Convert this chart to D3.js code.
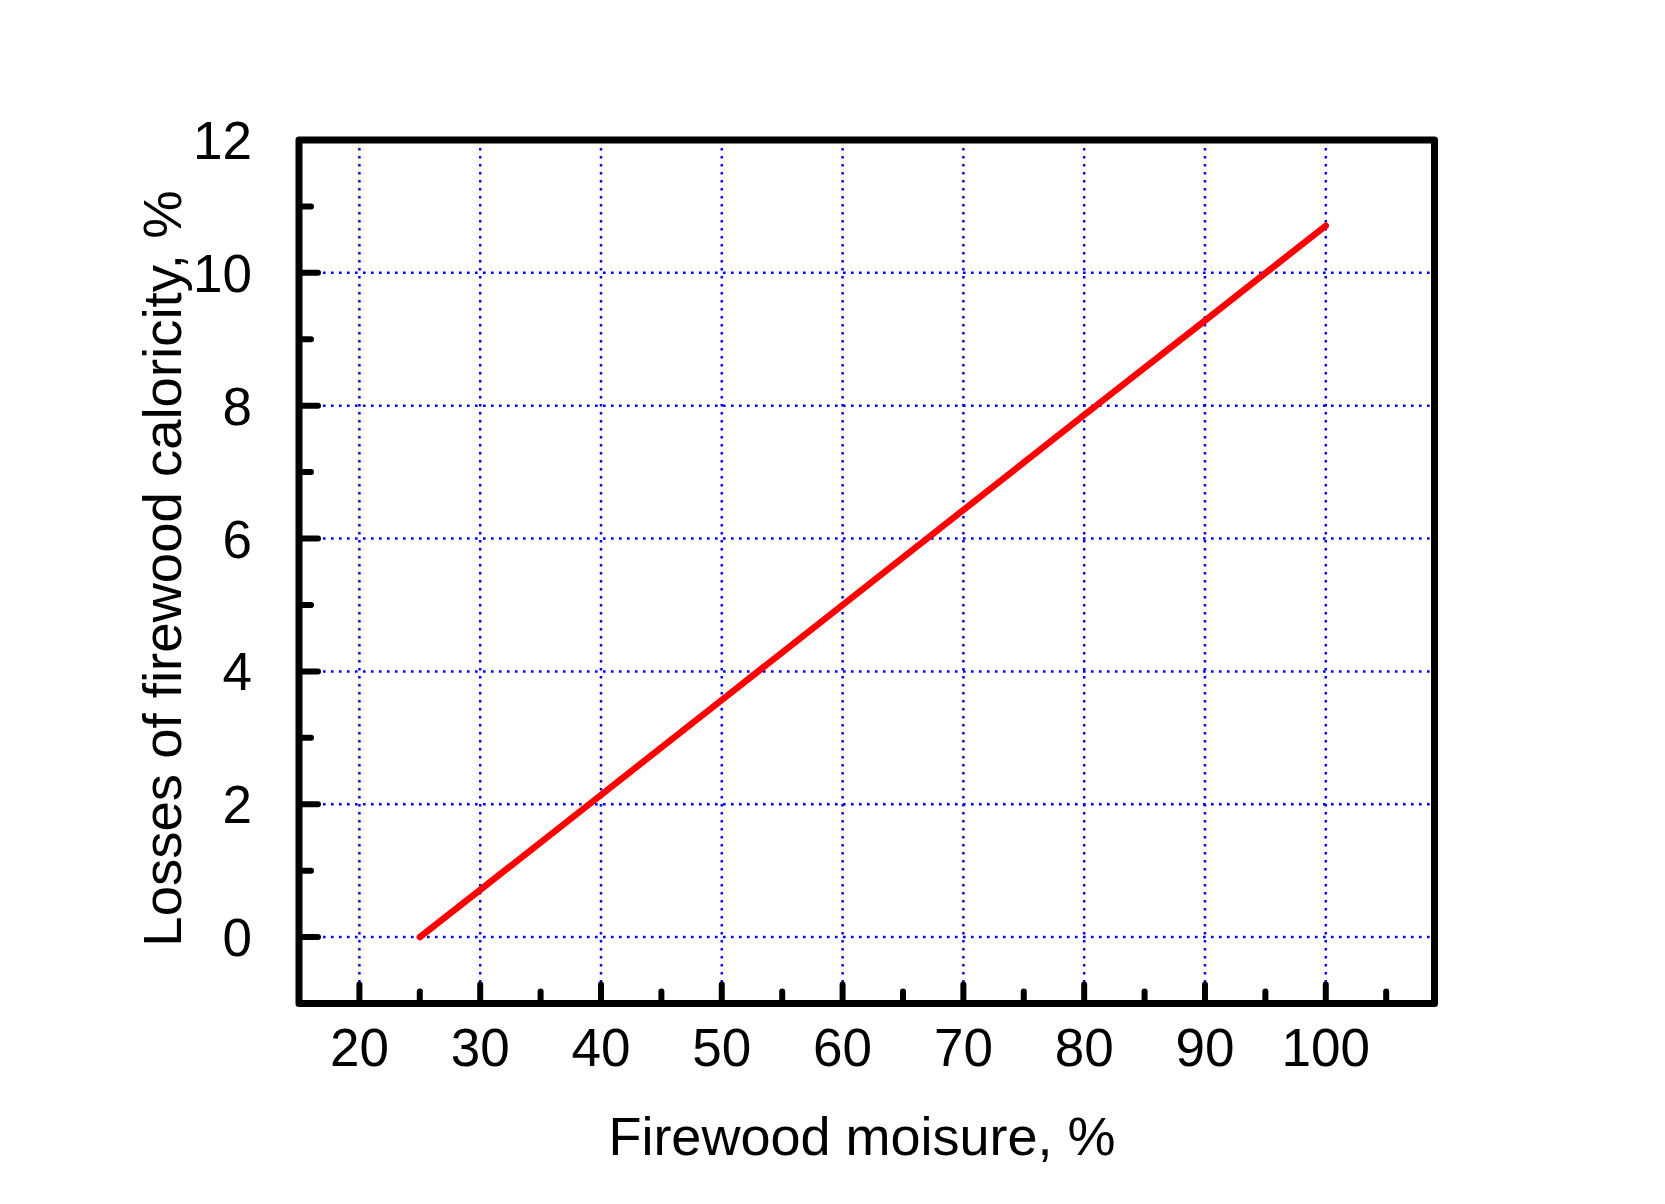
<!DOCTYPE html>
<html>
<head>
<meta charset="utf-8">
<script src="https://cdn.jsdelivr.net/npm/d3@7"></script>
<style>
  html, body { margin: 0; padding: 0; background: #fff; }
  svg { display: block; }
  text { font-family: "Liberation Sans", Arial, sans-serif; fill: #000; }
</style>
</head>
<body>
<svg id="chart" width="1665" height="1204"></svg>
<script>
// Data
const moisture = [25, 30, 40, 50, 60, 70, 80, 90, 100];
const losses   = [0, 0.71, 2.14, 3.57, 5.0, 6.43, 7.86, 9.28, 10.71];

const xMajorTicks = [20, 30, 40, 50, 60, 70, 80, 90, 100];
const xMinorTicks = [25, 35, 45, 55, 65, 75, 85, 95, 105];
const yMajorTicks = [0, 2, 4, 6, 8, 10, 12];
const yMinorTicks = [1, 3, 5, 7, 9, 11];

const xTitle = "Firewood moisure, %";
const yTitle = "Losses of firewood caloricity, %";

const svg = d3.select("#chart");
const L = 299, R = 1434.5, T = 140, B = 1003.5;

const x = d3.scaleLinear().domain([15, 109]).range([L, R]);
const y = d3.scaleLinear().domain([-1, 12]).range([B, T]);

// grid
const grid = svg.append("g")
  .attr("stroke", "#0000ff").attr("stroke-width", 2.5)
  .attr("stroke-dasharray", "2.6,5.4");
grid.selectAll("line.v").data(xMajorTicks).join("line")
  .attr("x1", d => x(d)).attr("x2", d => x(d))
  .attr("y1", T).attr("y2", B);
grid.selectAll("line.h").data(yMajorTicks.filter(d => d < 12)).join("line")
  .attr("class", "h")
  .attr("x1", L).attr("x2", R)
  .attr("y1", d => y(d)).attr("y2", d => y(d));

// data line
const line = d3.line().x(d => x(d[0])).y(d => y(d[1]));
svg.append("path")
  .datum(moisture.map((m, i) => [m, losses[i]]))
  .attr("d", line)
  .attr("fill", "none")
  .attr("stroke", "#ff0000")
  .attr("stroke-width", 6.5)
  .attr("stroke-linecap", "round")
  .attr("stroke-linejoin", "round");

// ticks (inward)
const ticks = svg.append("g").attr("stroke", "#000").attr("stroke-width", 6).attr("stroke-linecap", "round");
ticks.selectAll("line.xM").data(xMajorTicks).join("line").attr("class", "xM")
  .attr("x1", d => x(d)).attr("x2", d => x(d)).attr("y1", B).attr("y2", B - 19);
ticks.selectAll("line.xm").data(xMinorTicks).join("line").attr("class", "xm")
  .attr("x1", d => x(d)).attr("x2", d => x(d)).attr("y1", B).attr("y2", B - 12);
ticks.selectAll("line.yM").data(yMajorTicks).join("line").attr("class", "yM")
  .attr("x1", L).attr("x2", L + 19).attr("y1", d => y(d)).attr("y2", d => y(d));
ticks.selectAll("line.ym").data(yMinorTicks).join("line").attr("class", "ym")
  .attr("x1", L).attr("x2", L + 12).attr("y1", d => y(d)).attr("y2", d => y(d));

// frame
svg.append("rect")
  .attr("x", L).attr("y", T).attr("width", R - L).attr("height", B - T)
  .attr("fill", "none").attr("stroke", "#000").attr("stroke-width", 7)
  .attr("stroke-linejoin", "round");

// tick labels
svg.append("g").selectAll("text").data(xMajorTicks).join("text")
  .attr("x", d => x(d)).attr("y", 1066)
  .attr("text-anchor", "middle")
  .attr("font-size", 53)
  .text(d => d);
svg.append("g").selectAll("text").data(yMajorTicks).join("text")
  .attr("x", 252).attr("y", d => y(d) + 19)
  .attr("text-anchor", "end")
  .attr("font-size", 53)
  .text(d => d);

// axis titles
svg.append("text")
  .attr("x", 862).attr("y", 1155)
  .attr("text-anchor", "middle")
  .attr("font-size", 54)
  .text(xTitle);
svg.append("text")
  .attr("transform", "translate(181,568.5) rotate(-90)")
  .attr("text-anchor", "middle")
  .attr("font-size", 54.5)
  .text(yTitle);
</script>
</body>
</html>
